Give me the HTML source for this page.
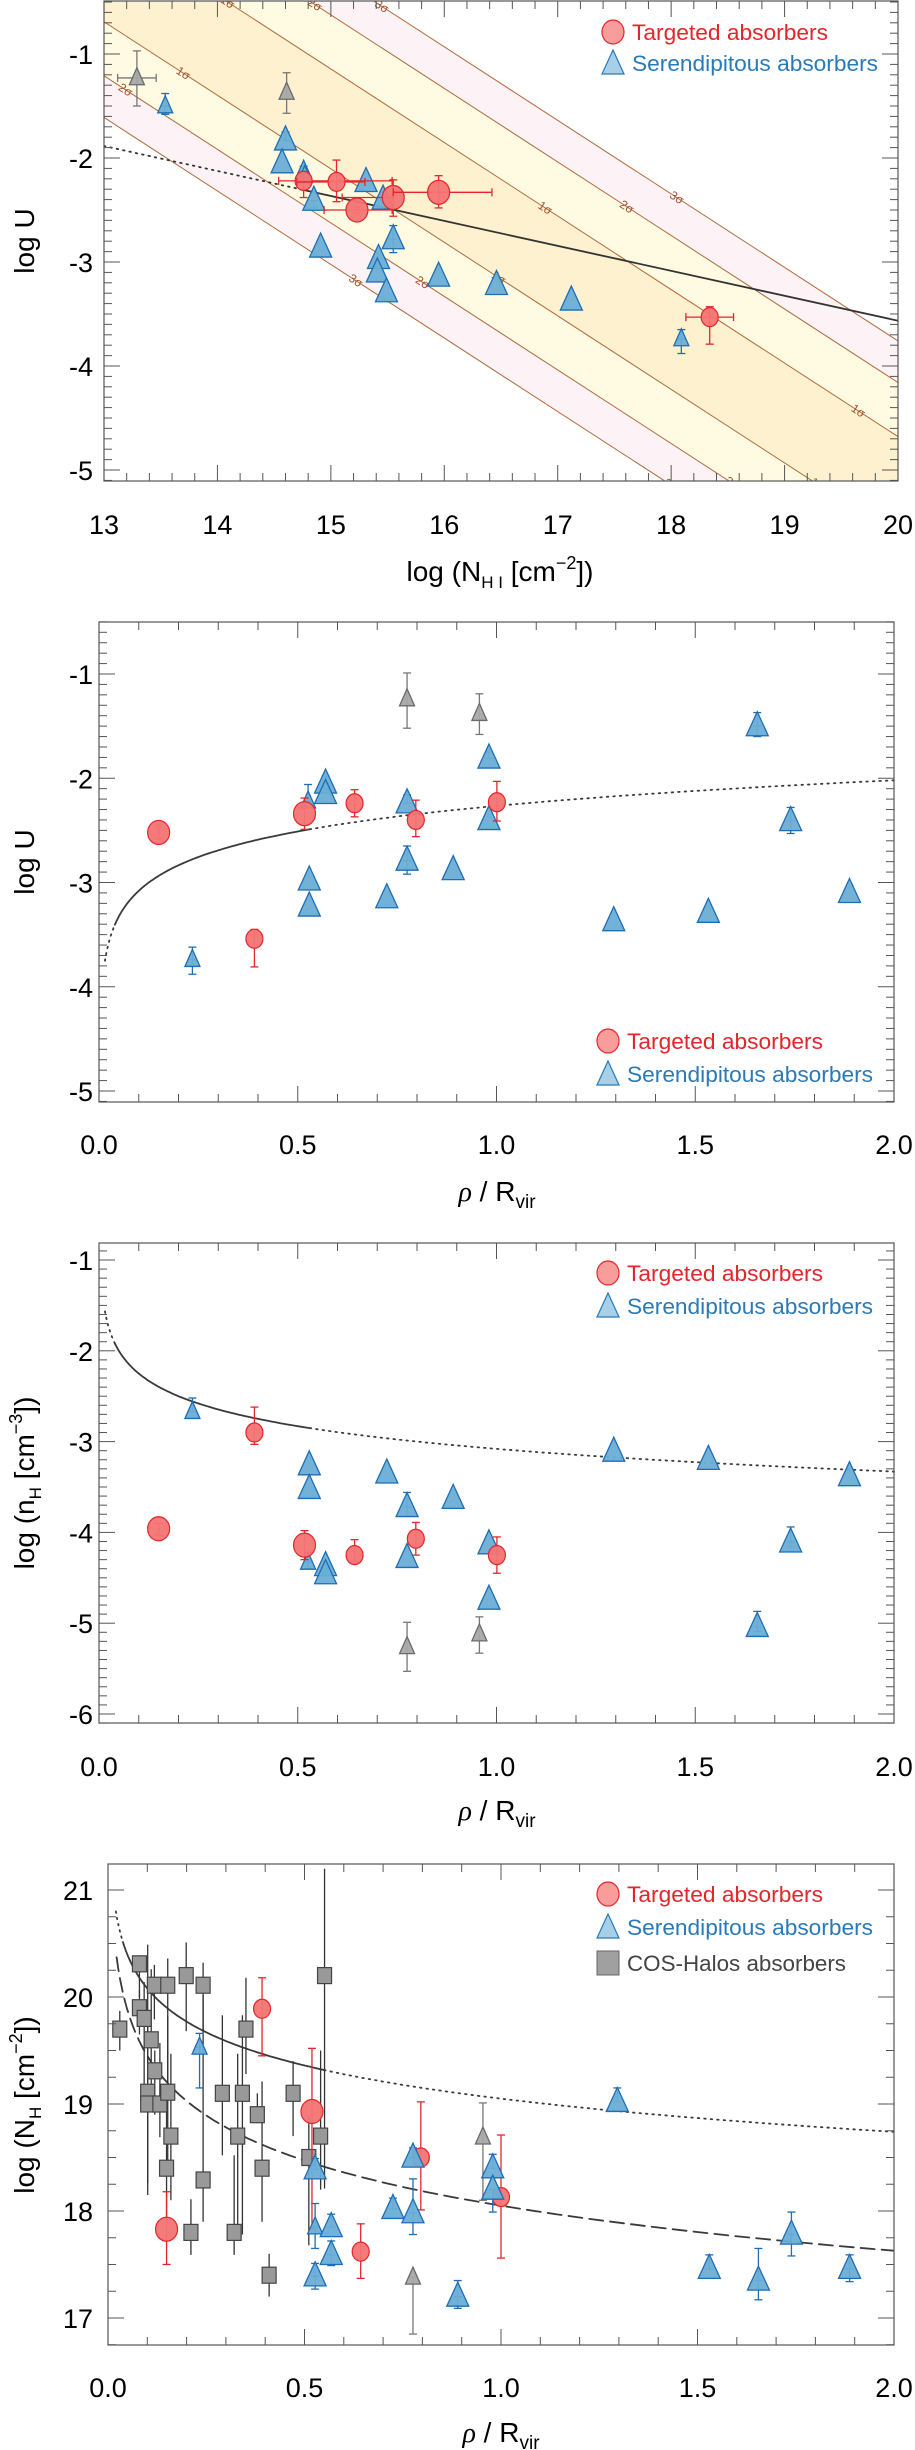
<!DOCTYPE html>
<html><head><meta charset="utf-8"><title>Absorber ionization plots</title>
<style>
html,body{margin:0;padding:0;background:#fff;}
svg{display:block;font-family:"Liberation Sans",Arial,sans-serif;}
</style></head>
<body>
<svg id="fig" xmlns="http://www.w3.org/2000/svg" width="915" height="2450" viewBox="0 0 915 2450"></svg>
<script>
// ---------- DATA: Panel 1 (log U vs log NHI) ----------
const p1BlueX = [13.54,14.60,14.57,14.76,14.77,14.85,14.91,15.31,15.42,15.41,15.49,15.46,15.55,15.95,16.46,17.12,18.09];
const p1BlueY = [-1.50,-1.83,-2.05,-2.12,-2.17,-2.41,-2.86,-2.23,-2.97,-3.10,-3.29,-2.40,-2.78,-3.14,-3.22,-3.37,-3.74];
const p1BlueLo = [-1.58,null,null,null,null,-2.48,null,null,null,null,null,null,-2.91,null,null,null,-3.88];
const p1BlueHi = [-1.38,-1.75,null,-2.08,null,null,null,null,null,null,null,null,-2.65,null,null,null,-3.65];
const p1BlueBig = [0,1,1,0,0,1,1,1,1,1,1,1,1,1,1,1,0];
const p1GrayX = [13.29,14.61];
const p1GrayY = [-1.23,-1.37];
const p1GrayLo = [-1.50,-1.57];
const p1GrayHi = [-0.97,-1.18];
const p1GrayXLo = [13.12,14.61];
const p1GrayXHi = [13.46,14.61];
const p1RedX = [14.76,15.05,15.23,15.55,15.95,18.34];
const p1RedY = [-2.22,-2.23,-2.50,-2.38,-2.33,-3.53];
const p1RedLo = [-2.38,-2.42,-2.53,-2.56,-2.48,-3.79];
const p1RedHi = [-2.15,-2.02,-2.47,-2.21,-2.17,-3.43];
const p1RedXLo = [14.54,14.70,14.94,15.10,15.55,18.13];
const p1RedXHi = [15.54,15.30,15.54,15.54,16.42,18.55];
const p1RedBig = [0,0,1,1,1,0];
const p1Sigma = [1,2,3];
const p1SigmaHalf = [0.48,1.0,1.4];
const p1BandCenter = -0.21;   // log U at NHI=13
const p1BandSlope = -0.707;
const p1FitA = -2.30, p1FitX0 = 14.73, p1FitB = -0.24;
// sigma label placements: [sigma index, side(+1 upper / -1 lower), log NHI]
const p1SigmaLabels = [[0,1,14.09],[0,1,16.89],[0,1,19.65],[1,1,14.86],[1,1,17.61],[2,1,15.45],[2,1,18.05],
                       [0,-1,13.70],[0,-1,16.48],[0,-1,19.29],[1,-1,13.19],[1,-1,15.81],[1,-1,18.54],[2,-1,15.22],[2,-1,18.0]];

// ---------- DATA: Panel 2 (log U vs rho/Rvir) ----------
const p2BlueX = [0.235,0.526,0.529,0.529,0.570,0.570,0.724,0.775,0.775,0.891,0.981,0.981,1.295,1.533,1.656,1.740,1.888];
const p2BlueY = [-3.74,-2.22,-2.98,-3.23,-2.05,-2.15,-3.15,-2.24,-2.79,-2.88,-1.81,-2.40,-3.37,-3.29,-1.50,-2.41,-3.10];
const p2BlueLo = [-3.88,null,null,null,null,null,null,null,-2.92,null,null,null,null,null,-1.60,-2.53,null];
const p2BlueHi = [-3.62,-2.06,null,null,-1.98,null,null,-2.16,-2.65,null,-1.75,null,null,null,-1.37,-2.28,null];
const p2BlueBig = [0,0,1,1,1,1,1,1,1,1,1,1,1,1,1,1,1];
const p2GrayX = [0.775,0.957];
const p2GrayY = [-1.24,-1.38];
const p2GrayLo = [-1.52,-1.58];
const p2GrayHi = [-0.99,-1.19];
const p2RedX = [0.150,0.391,0.517,0.643,0.797,1.001];
const p2RedY = [-2.52,-3.54,-2.34,-2.24,-2.40,-2.23];
const p2RedLo = [-2.58,-3.81,-2.49,-2.37,-2.56,-2.41];
const p2RedHi = [-2.45,-3.45,-2.19,-2.11,-2.21,-2.03];
const p2RedBig = [1,0,1,0,0,0];
const p2ModelA = -2.265, p2ModelB = 0.815;

// ---------- DATA: Panel 3 (log nH vs rho/Rvir) ----------
const p3BlueX = [0.235,0.529,0.529,0.526,0.570,0.570,0.724,0.775,0.775,0.891,0.981,0.981,1.295,1.533,1.656,1.740,1.888];
const p3BlueY = [-2.67,-3.26,-3.52,-4.33,-4.37,-4.46,-3.35,-3.72,-4.28,-3.63,-4.13,-4.74,-3.11,-3.20,-5.04,-4.11,-3.38];
const p3BlueLo = [null,null,null,-4.40,null,null,null,-3.82,null,null,null,null,null,null,-5.09,-4.16,null];
const p3BlueHi = [-2.52,null,null,-4.22,null,null,null,-3.56,null,null,null,null,null,null,-4.87,-3.94,null];
const p3BlueBig = [0,1,1,0,1,1,1,1,1,1,1,1,1,1,1,1,1];
const p3GrayX = [0.775,0.957];
const p3GrayY = [-5.26,-5.12];
const p3GrayLo = [-5.53,-5.33];
const p3GrayHi = [-4.99,-4.93];
const p3RedX = [0.150,0.391,0.517,0.643,0.797,1.001];
const p3RedY = [-3.96,-2.90,-4.14,-4.25,-4.07,-4.25];
const p3RedLo = [-4.03,-3.03,-4.30,-4.32,-4.25,-4.45];
const p3RedHi = [-3.90,-2.62,-3.98,-4.08,-3.89,-4.05];
const p3RedBig = [1,0,1,0,0,0];
const p3ModelA = -3.08, p3ModelB = -0.83;

// ---------- DATA: Panel 4 (log NH vs rho/Rvir) ----------
const p4CosX = [0.030,0.080,0.080,0.092,0.110,0.119,0.118,0.152,0.101,0.101,0.132,0.152,0.160,0.149,0.199,0.211,0.242,0.242,0.291,0.321,0.330,0.342,0.351,0.380,0.392,0.410,0.471,0.511,0.541,0.551];
const p4CosY = [19.70,20.31,19.90,19.80,19.60,19.31,20.11,20.11,19.11,19.00,19.00,19.11,18.70,18.40,20.20,17.80,20.11,18.29,19.10,17.80,18.70,19.10,19.70,18.90,18.40,17.40,19.10,18.50,18.70,20.20];
const p4CosLo = [19.50,20.00,19.65,19.14,19.15,18.90,19.79,19.15,18.15,18.26,18.69,18.47,18.10,17.93,19.68,17.59,19.68,17.90,18.52,17.59,17.83,17.78,19.28,18.82,17.90,17.20,18.70,17.68,18.20,18.21];
const p4CosHi = [19.87,20.39,20.06,20.14,20.26,19.50,20.30,20.36,20.49,19.73,19.57,19.82,19.47,19.14,20.51,18.11,20.32,20.02,19.83,18.52,19.47,19.83,20.18,19.10,19.21,17.60,19.40,18.89,19.50,21.2];
const p4RedX = [0.149,0.392,0.519,0.643,0.796,1.000];
const p4RedY = [17.83,19.89,18.93,17.62,18.50,18.13];
const p4RedLo = [17.50,19.45,17.83,17.37,18.01,17.56];
const p4RedHi = [18.18,20.18,19.52,17.88,19.02,18.71];
const p4RedBig = [1,0,1,0,0,0];
const p4BlueX = [0.233,0.527,0.527,0.527,0.568,0.568,0.725,0.776,0.776,0.890,0.979,0.979,1.296,1.530,1.655,1.739,1.887];
const p4BlueY = [19.53,18.39,17.85,17.39,17.85,17.59,18.02,18.50,17.98,17.20,18.40,18.20,19.02,17.46,17.35,17.78,17.46];
const p4BlueLo = [19.15,null,17.65,17.27,null,17.49,null,null,17.78,17.09,null,17.99,null,null,17.17,17.58,17.34];
const p4BlueHi = [19.66,18.49,18.07,17.51,17.97,17.72,18.12,18.59,18.30,17.35,18.53,null,19.15,17.59,17.65,17.99,17.59];
const p4BlueBig = [0,1,0,1,1,1,1,1,1,1,1,1,1,1,1,1,1];
const p4GrayX = [0.954,0.776];
const p4GrayY = [18.69,17.38];
const p4GrayLo = [18.10,16.85];
const p4GrayHi = [19.01,17.38];
const p4UpperA = 19.05, p4UpperB = -1.03;
const p4LowerA = 18.05, p4LowerB = -1.40;

// ---------- helpers ----------
const NS = "http://www.w3.org/2000/svg";
const svg = document.getElementById('fig');
function mk(tag, attrs, parent){
  const e = document.createElementNS(NS, tag);
  for (const k in attrs) e.setAttribute(k, attrs[k]);
  (parent||svg).appendChild(e);
  return e;
}
const RED_F="#f47474", RED_S="#e3262b", BLUE_F="#6aaed6", BLUE_S="#1f6db3", GRAY_F="#a8a8a8", GRAY_S="#6a6a6a";

function makeAxes(c){
  c.X = v => c.px0 + (v - c.xv0) * (c.px1 - c.px0) / (c.xv1 - c.xv0);
  c.Y = v => c.py0 + (c.yv0 - v) * c.ppu;
  return c;
}

function drawFrame(c, g){
  const L=c.left, R=c.right, T=c.top, B=c.bottom;
  const fr = mk('rect',{x:L,y:T,width:R-L,height:B-T,fill:'none',stroke:'#555','stroke-width':1.2},g);
  
  
  for (let v=c.xv0; v<=c.xv1+1e-9; v+=c.xMinor){
    const isMaj = Math.abs(v/c.xMajor - Math.round(v/c.xMajor))<1e-6;
    const x=c.X(v), len=isMaj?16:8;
    mk('line',{x1:x,y1:B,x2:x,y2:B-len,stroke:'#555','stroke-width':1},g);
    mk('line',{x1:x,y1:T,x2:x,y2:T+len,stroke:'#555','stroke-width':1},g);
  }
  const yFrom = Math.ceil(c.yMinV/c.yMinor)*c.yMinor;
  for (let v=yFrom; v<=c.yMaxV+1e-9; v+=c.yMinor){
    const y=c.Y(v); if (y<T-0.5||y>B+0.5) continue;
    const isMaj = Math.abs(v/c.yMajor - Math.round(v/c.yMajor))<1e-6;
    const len=isMaj?16:8;
    mk('line',{x1:L,y1:y,x2:L+len,y2:y,stroke:'#555','stroke-width':1},g);
    mk('line',{x1:R,y1:y,x2:R-len,y2:y,stroke:'#555','stroke-width':1},g);
  }
  c.xLabels.forEach((lab,i)=>{
    const t=mk('text',{x:c.X(c.xLabelVals[i]),y:c.xLabelY,'font-size':27,'text-anchor':'middle',fill:'#000'},g);
    t.textContent=lab;
    
    
  });
  c.yLabels.forEach((lab,i)=>{
    const t=mk('text',{x:93,y:c.Y(c.yLabelVals[i])+10,'font-size':27,'text-anchor':'end',fill:'#000'},g);
    t.textContent=lab;
    
    
  });
}

function errV(x,yl,yh,color,g,cap){
  mk('line',{x1:x,y1:yl,x2:x,y2:yh,stroke:color,'stroke-width':1.3},g);
  if(cap!==false){
    mk('line',{x1:x-4,y1:yl,x2:x+4,y2:yl,stroke:color,'stroke-width':1.3},g);
    mk('line',{x1:x-4,y1:yh,x2:x+4,y2:yh,stroke:color,'stroke-width':1.3},g);
  }
}
function errH(y,xl,xh,color,g){
  mk('line',{x1:xl,y1:y,x2:xh,y2:y,stroke:color,'stroke-width':1.3},g);
  mk('line',{x1:xl,y1:y-4,x2:xl,y2:y+4,stroke:color,'stroke-width':1.3},g);
  mk('line',{x1:xh,y1:y-4,x2:xh,y2:y+4,stroke:color,'stroke-width':1.3},g);
}
function tri(x,y,big,fill,stroke,g){
  const h=big?24:17, w=big?22:15;
  return mk('polygon',{points:`${x},${y-h*0.6} ${x-w/2},${y+h*0.4} ${x+w/2},${y+h*0.4}`,fill:fill,stroke:stroke,'stroke-width':1.3,'fill-opacity':0.95},g);
}
function circ(x,y,big,g){
  return mk('ellipse',{cx:x,cy:y,rx:big?11:8.5,ry:big?12:9.5,fill:RED_F,stroke:RED_S,'stroke-width':1.2,'fill-opacity':0.95},g);
}
function sq(x,y,g){
  return mk('rect',{x:x-7,y:y-8,width:14,height:16,fill:'#999',stroke:'#444','stroke-width':1.2},g);
}

function drawBlue(c,X,Y,Lo,Hi,Big,g){
  X.forEach((v,i)=>{
    const x=c.X(v), y=c.Y(Y[i]);
    if (Lo[i]!==null) errV(x,y,c.Y(Lo[i]),BLUE_S,g);
    if (Hi[i]!==null) errV(x,y,c.Y(Hi[i]),BLUE_S,g);
    const m=tri(x,y,Big[i],BLUE_F,BLUE_S,g);
    
    
  });
}
function drawGray(c,X,Y,Lo,Hi,g,XLo,XHi){
  X.forEach((v,i)=>{
    const x=c.X(v), y=c.Y(Y[i]);
    errV(x,c.Y(Lo[i]),c.Y(Hi[i]),'#777',g);
    if (XLo && XLo[i]!==XHi[i]) errH(y,c.X(XLo[i]),c.X(XHi[i]),'#777',g);
    const m=tri(x,y,0,GRAY_F,GRAY_S,g);
    
    
  });
}
function drawRed(c,X,Y,Lo,Hi,Big,g,XLo,XHi){
  X.forEach((v,i)=>{
    const x=c.X(v), y=c.Y(Y[i]);
    errV(x,c.Y(Lo[i]),c.Y(Hi[i]),RED_S,g);
    if (XLo) errH(y,c.X(XLo[i]),c.X(XHi[i]),RED_S,g);
    const m=circ(x,y,Big[i],g);
    
    
  });
}

function curve(c,f,x0,x1,dash,g,name){
  let d='';
  const n=120;
  for(let i=0;i<=n;i++){
    const xv=Math.exp(Math.log(x0)+(Math.log(x1)-Math.log(x0))*i/n);
    d+=(i?'L':'M')+c.X(xv).toFixed(1)+','+c.Y(f(xv)).toFixed(1);
  }
  const p=mk('path',{d:d,fill:'none',stroke:'#3a3a3a','stroke-width':1.8,'stroke-dasharray':dash==='dot'?'1.5,5':(dash==='dash'?'14,7':'none'),'stroke-linecap':'round'},g);
  
  
  return p;
}

function legend(x,ys,items,g){
  items.forEach((it,i)=>{
    const y=ys[i];
    let m;
    if(it.type==='c') m=mk('ellipse',{cx:x,cy:y,rx:11,ry:12,fill:'#f89c9c',stroke:'#e3262b','stroke-width':1.2},g);
    else if(it.type==='t') m=mk('polygon',{points:`${x},${y-13} ${x-11},${y+11} ${x+11},${y+11}`,fill:'#a7cfe8',stroke:'#2a7ab8','stroke-width':1.2},g);
    else m=mk('rect',{x:x-11,y:y-12,width:22,height:24,fill:'#a0a0a0',stroke:'#666','stroke-width':1},g);
    
    
    const t=mk('text',{x:x+19,y:y+8,'font-size':22,fill:it.color,textLength:it.w,lengthAdjust:'spacingAndGlyphs'},g);
    t.textContent=it.label;
    
    
  });
}

function yTitle(x,yc,html,g){
  const t=mk('text',{x:0,y:0,'font-size':28,'text-anchor':'middle',fill:'#000',transform:`translate(${x},${yc}) rotate(-90)`},g);
  t.innerHTML=html;
  
  
}
function xTitle(x,y,html,g){
  const t=mk('text',{x:x,y:y,'font-size':28,'text-anchor':'middle',fill:'#000'},g);
  t.innerHTML=html;
  
  
}
const RHO_TITLE = '<tspan font-style="italic" font-family="Liberation Serif">ρ</tspan> / R<tspan font-size="19" dy="7">vir</tspan>';
const LEG2 = [{type:'c',label:'Targeted absorbers',color:'#e3262b',w:196},{type:'t',label:'Serendipitous absorbers',color:'#2a7ab8',w:246}];

// ================= PANEL 1 =================
(function(){
  const g=mk('g',{});
  
  
  const c=makeAxes({left:104,right:898,top:1,bottom:481,px0:104,px1:898,xv0:13,xv1:20,py0:54,yv0:-1,ppu:104,
    xMajor:1,xMinor:0.2,yMajor:1,yMinor:0.1,yMinV:-5.2,yMaxV:-0.4,
    xLabels:['13','14','15','16','17','18','19','20'],xLabelVals:[13,14,15,16,17,18,19,20],xLabelY:534,
    yLabels:['-1','-2','-3','-4','-5'],yLabelVals:[-1,-2,-3,-4,-5]});
  mk('clipPath',{id:'cp1'},g);
  mk('rect',{x:c.left,y:c.top,width:c.right-c.left,height:c.bottom-c.top},g.lastChild);
  const bg=mk('g',{'clip-path':'url(#cp1)'},g);
  const line=(off,xv)=>p1BandCenter+off+p1BandSlope*(xv-13);
  const band=(o1,o2,fill)=>{
    const pts=[[13,line(o1,13)],[20,line(o1,20)],[20,line(o2,20)],[13,line(o2,13)]];
    const p=mk('polygon',{points:pts.map(q=>c.X(q[0])+','+c.Y(q[1])).join(' '),fill:fill},bg);
    
    
  };
  const cols=['#fdf1cf','#fffbe3','#fdf3f6'];
  for(let k=2;k>=0;k--) band(p1SigmaHalf[k],-p1SigmaHalf[k],cols[k]);
  const ang=Math.atan(-p1BandSlope*c.ppu/(c.X(14)-c.X(13)))*180/Math.PI;
  p1SigmaHalf.forEach((h,k)=>{
    [h,-h].forEach((o)=>{
      const l=mk('line',{x1:c.X(13),y1:c.Y(line(o,13)),x2:c.X(20),y2:c.Y(line(o,20)),stroke:'#b06a3c','stroke-width':1},bg);
      
      
    });
  });
  p1SigmaLabels.forEach(s=>{
    const k=s[0], o=s[1]*p1SigmaHalf[k], xv=s[2];
    const px=c.X(xv), py=c.Y(line(o,xv));
    const t=mk('text',{x:px,y:py+4,'font-size':12,fill:'#a0522d','text-anchor':'middle',transform:`rotate(${ang} ${px} ${py})`},bg);
    t.textContent=p1Sigma[k]+'σ';
    
    
  });
  const fit=v=>p1FitA+p1FitB*(v-p1FitX0);
  const dl=mk('line',{x1:c.X(13),y1:c.Y(fit(13)),x2:c.X(p1FitX0),y2:c.Y(fit(p1FitX0)),stroke:'#333','stroke-width':1.8,'stroke-dasharray':'1.5,5','stroke-linecap':'round'},bg);
  
  
  const sl=mk('line',{x1:c.X(p1FitX0),y1:c.Y(fit(p1FitX0)),x2:c.X(20),y2:c.Y(fit(20)),stroke:'#333','stroke-width':1.8},bg);
  
  
  drawGray(c,p1GrayX,p1GrayY,p1GrayLo,p1GrayHi,g,p1GrayXLo,p1GrayXHi);
  drawBlue(c,p1BlueX,p1BlueY,p1BlueLo,p1BlueHi,p1BlueBig,g);
  drawRed(c,p1RedX,p1RedY,p1RedLo,p1RedHi,p1RedBig,g,p1RedXLo,p1RedXHi);
  drawFrame(c,g);
  legend(613,[32,63],LEG2,g);
  yTitle(34,241,'log U',g);
  xTitle(500,581,'log (N<tspan font-size="17" dy="7">H I</tspan><tspan dy="-7"> [cm</tspan><tspan font-size="18" dy="-12">−2</tspan><tspan dy="12">])</tspan>',g);
})();

// ================= PANEL 2 =================
(function(){
  const g=mk('g',{});
  
  
  const c=makeAxes({left:99,right:894,top:622,bottom:1102,px0:99,px1:894,xv0:0,xv1:2,py0:674,yv0:-1,ppu:104.25,
    xMajor:0.5,xMinor:0.1,yMajor:1,yMinor:0.1,yMinV:-5.2,yMaxV:-0.4,
    xLabels:['0.0','0.5','1.0','1.5','2.0'],xLabelVals:[0,0.5,1,1.5,2],xLabelY:1154,
    yLabels:['-1','-2','-3','-4','-5'],yLabelVals:[-1,-2,-3,-4,-5]});
  const f=v=>p2ModelA+p2ModelB*Math.log10(v);
  curve(c,f,0.015,0.04,'dot',g,'model-curve-extrapolated');
  curve(c,f,0.04,0.53,'solid',g,'model-curve');
  curve(c,f,0.53,2.0,'dot',g,'model-curve-extrapolated');
  drawGray(c,p2GrayX,p2GrayY,p2GrayLo,p2GrayHi,g);
  drawBlue(c,p2BlueX,p2BlueY,p2BlueLo,p2BlueHi,p2BlueBig,g);
  drawRed(c,p2RedX,p2RedY,p2RedLo,p2RedHi,p2RedBig,g);
  drawFrame(c,g);
  legend(608,[1041,1074],LEG2,g);
  yTitle(34,862,'log U',g);
  xTitle(497,1201,RHO_TITLE,g);
})();

// ================= PANEL 3 =================
(function(){
  const g=mk('g',{});
  
  
  const c=makeAxes({left:99,right:894,top:1243,bottom:1723,px0:99,px1:894,xv0:0,xv1:2,py0:1260,yv0:-1,ppu:90.8,
    xMajor:0.5,xMinor:0.1,yMajor:1,yMinor:0.1,yMinV:-6.2,yMaxV:-0.8,
    xLabels:['0.0','0.5','1.0','1.5','2.0'],xLabelVals:[0,0.5,1,1.5,2],xLabelY:1776,
    yLabels:['-1','-2','-3','-4','-5','-6'],yLabelVals:[-1,-2,-3,-4,-5,-6]});
  const f=v=>p3ModelA+p3ModelB*Math.log10(v);
  curve(c,f,0.015,0.04,'dot',g,'model-curve-extrapolated');
  curve(c,f,0.04,0.53,'solid',g,'model-curve');
  curve(c,f,0.53,2.0,'dot',g,'model-curve-extrapolated');
  drawGray(c,p3GrayX,p3GrayY,p3GrayLo,p3GrayHi,g);
  drawBlue(c,p3BlueX,p3BlueY,p3BlueLo,p3BlueHi,p3BlueBig,g);
  drawRed(c,p3RedX,p3RedY,p3RedLo,p3RedHi,p3RedBig,g);
  drawFrame(c,g);
  legend(608,[1273,1306],LEG2,g);
  yTitle(34,1483,'log (n<tspan font-size="17" dy="7">H</tspan><tspan dy="-7"> [cm</tspan><tspan font-size="18" dy="-12">−3</tspan><tspan dy="12">])</tspan>',g);
  xTitle(497,1820,RHO_TITLE,g);
})();

// ================= PANEL 4 =================
(function(){
  const g=mk('g',{});
  
  
  const c=makeAxes({left:108,right:894,top:1864,bottom:2345,px0:108,px1:894,xv0:0,xv1:2,py0:1890,yv0:21,ppu:107,
    xMajor:0.5,xMinor:0.1,yMajor:1,yMinor:0.25,yMinV:16.7,yMaxV:21.3,
    xLabels:['0.0','0.5','1.0','1.5','2.0'],xLabelVals:[0,0.5,1,1.5,2],xLabelY:2397,
    yLabels:['21','20','19','18','17'],yLabelVals:[21,20,19,18,17]});
  mk('clipPath',{id:'cp4'},g);
  mk('rect',{x:c.left,y:c.top,width:c.right-c.left,height:c.bottom-c.top},g.lastChild);
  const cg=mk('g',{'clip-path':'url(#cp4)'},g);
  const fu=v=>p4UpperA+p4UpperB*Math.log10(v);
  const fl=v=>p4LowerA+p4LowerB*Math.log10(v);
  curve(c,fu,0.02,0.038,'dot',cg,'upper-model-curve-extrapolated');
  curve(c,fu,0.038,0.55,'solid',cg,'upper-model-curve');
  curve(c,fu,0.55,2.0,'dot',cg,'upper-model-curve-extrapolated');
  curve(c,fl,0.022,2.0,'dash',cg,'lower-model-curve');
  p4CosX.forEach((v,i)=>{
    const x=c.X(v);
    errV(x,c.Y(Math.max(p4CosLo[i],16.75)),c.Y(Math.min(p4CosHi[i],21.2)),'#333',g,false);
  });
  p4CosX.forEach((v,i)=>{
    const m=sq(c.X(v),c.Y(p4CosY[i]),g);
    
    
  });
  drawGray(c,p4GrayX,p4GrayY,p4GrayLo,p4GrayHi,g);
  drawRed(c,p4RedX,p4RedY,p4RedLo,p4RedHi,p4RedBig,g);
  drawBlue(c,p4BlueX,p4BlueY,p4BlueLo,p4BlueHi,p4BlueBig,g);
  drawFrame(c,g);
  legend(608,[1894,1927,1963],[LEG2[0],LEG2[1],{type:'s',label:'COS-Halos absorbers',color:'#444',w:219}],g);
  yTitle(34,2105,'log (N<tspan font-size="17" dy="7">H</tspan><tspan dy="-7"> [cm</tspan><tspan font-size="18" dy="-12">−2</tspan><tspan dy="12">])</tspan>',g);
  xTitle(501,2442,RHO_TITLE,g);
})();
</script>
</body></html>
